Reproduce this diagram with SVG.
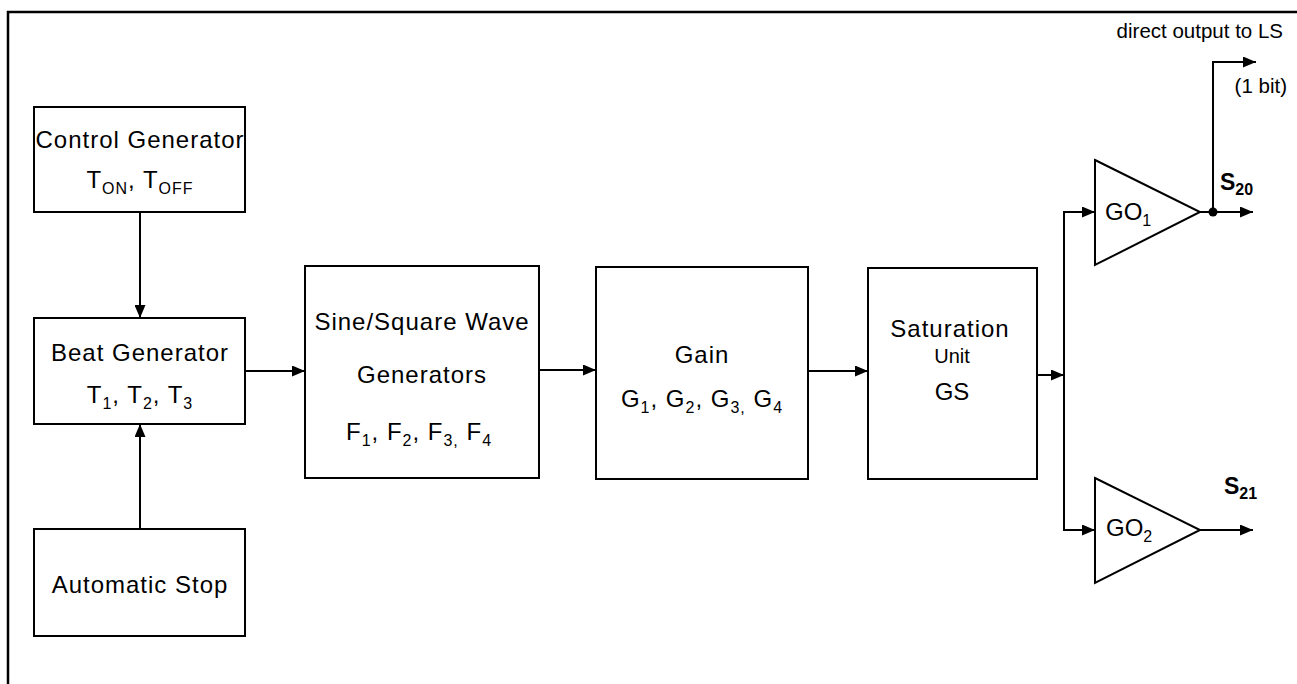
<svg xmlns="http://www.w3.org/2000/svg" width="1297" height="684" viewBox="0 0 1297 684">
<style>
  .box { fill: #fff; stroke: #000; stroke-width: 2; }
  .frame { fill: none; stroke: #000; stroke-width: 2.5; }
  .wire { fill: none; stroke: #000; stroke-width: 2; }
  .lbl { font-family: "Liberation Sans", Arial, Helvetica, sans-serif; font-size: 24px; letter-spacing: 1px; fill: #000; text-anchor: middle; }
  .sm { font-family: "Liberation Sans", Arial, Helvetica, sans-serif; font-size: 20.5px; fill: #000; }
  .sub { font-size: 16px; }
  .bold { font-family: "Liberation Sans", Arial, Helvetica, sans-serif; font-size: 23px; font-weight: bold; fill: #000; }
</style>
<defs>
  <marker id="arr" markerUnits="userSpaceOnUse" markerWidth="13" markerHeight="11" refX="13" refY="5.5" orient="auto">
    <path d="M0,0 L13,5.5 L0,11 z" fill="#000"/>
  </marker>
</defs>
<rect x="0" y="0" width="1297" height="684" fill="#fff"/>
<path class="frame" d="M8,684 L8,12 L1297,12"/>

<g id="connectors">
  <path class="wire" d="M140,212 L140,318" marker-end="url(#arr)"/>
  <path class="wire" d="M140,529 L140,424" marker-end="url(#arr)"/>
  <path class="wire" d="M245,371 L305,371" marker-end="url(#arr)"/>
  <path class="wire" d="M539,370 L596,370" marker-end="url(#arr)"/>
  <path class="wire" d="M808,371 L868,371" marker-end="url(#arr)"/>
  <path class="wire" d="M1037,375 L1064,375" marker-end="url(#arr)"/>
  <path class="wire" d="M1064,211 L1064,531"/>
  <path class="wire" d="M1063,212 L1095,212" marker-end="url(#arr)"/>
  <path class="wire" d="M1063,530 L1095,530" marker-end="url(#arr)"/>
  <path class="wire" d="M1200,212 L1253,212" marker-end="url(#arr)"/>
  <path class="wire" d="M1213,212 L1213,62 L1256,62" marker-end="url(#arr)"/>
  <path class="wire" d="M1200,530 L1253,530" marker-end="url(#arr)"/>
  <circle cx="1213" cy="212" r="4.5" fill="#000"/>
</g>

<g id="control-generator">
  <rect class="box" x="34" y="107" width="211" height="105"/>
  <text class="lbl" x="140" y="148">Control Generator</text>
  <text class="lbl" x="140" y="188">T<tspan class="sub" dy="6">ON</tspan><tspan dy="-6">, T</tspan><tspan class="sub" dy="6">OFF</tspan></text>
</g>

<g id="beat-generator">
  <rect class="box" x="34" y="318" width="211" height="106"/>
  <text class="lbl" x="140" y="361">Beat Generator</text>
  <text class="lbl" x="140" y="403">T<tspan class="sub" dy="6">1</tspan><tspan dy="-6">, T</tspan><tspan class="sub" dy="6">2</tspan><tspan dy="-6">, T</tspan><tspan class="sub" dy="6">3</tspan></text>
</g>

<g id="automatic-stop">
  <rect class="box" x="34" y="529" width="211" height="107"/>
  <text class="lbl" x="140" y="593">Automatic Stop</text>
</g>

<g id="wave-generators">
  <rect class="box" x="305" y="266" width="234" height="212"/>
  <text class="lbl" x="422" y="330">Sine/Square Wave</text>
  <text class="lbl" x="422" y="383">Generators</text>
  <text class="lbl" x="419" y="440">F<tspan class="sub" dy="6">1</tspan><tspan dy="-6">, F</tspan><tspan class="sub" dy="6">2</tspan><tspan dy="-6">, F</tspan><tspan class="sub" dy="6">3,</tspan><tspan dy="-6"> F</tspan><tspan class="sub" dy="6">4</tspan></text>
</g>

<g id="gain">
  <rect class="box" x="596" y="267" width="212" height="212"/>
  <text class="lbl" x="702" y="363">Gain</text>
  <text class="lbl" x="702" y="407">G<tspan class="sub" dy="6">1</tspan><tspan dy="-6">, G</tspan><tspan class="sub" dy="6">2</tspan><tspan dy="-6">, G</tspan><tspan class="sub" dy="6">3,</tspan><tspan dy="-6"> G</tspan><tspan class="sub" dy="6">4</tspan></text>
</g>

<g id="saturation-unit">
  <rect class="box" x="868" y="268" width="169" height="211"/>
  <text class="lbl" x="950" y="337">Saturation</text>
  <text class="lbl" x="952" y="363" style="font-size:20px;letter-spacing:0">Unit</text>
  <text class="lbl" x="952" y="400" style="letter-spacing:0">GS</text>
</g>

<g id="go1">
  <path class="box" d="M1095,160 L1200,212 L1095,265 z"/>
  <text class="lbl" x="1105" y="220" style="text-anchor:start;letter-spacing:0">GO<tspan class="sub" dy="6">1</tspan></text>
</g>

<g id="go2">
  <path class="box" d="M1095,478 L1200,530 L1095,583 z"/>
  <text class="lbl" x="1106" y="536" style="text-anchor:start;letter-spacing:0">GO<tspan class="sub" dy="6">2</tspan></text>
</g>

<g id="outputs">
  <text class="sm" x="1283" y="38" text-anchor="end">direct output to LS</text>
  <text class="sm" x="1287" y="93" text-anchor="end">(1 bit)</text>
  <text class="bold" x="1220" y="190">S<tspan class="sub" dy="5">20</tspan></text>
  <text class="bold" x="1224" y="494">S<tspan class="sub" dy="5">21</tspan></text>
</g>
</svg>
